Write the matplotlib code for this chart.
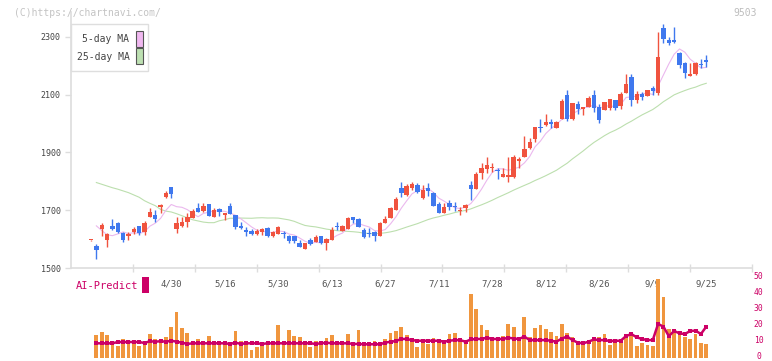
import numpy as np
import pandas as pd
import matplotlib
matplotlib.use("Agg")
import matplotlib.pyplot as plt
import matplotlib.transforms as mtransforms
from matplotlib.patches import Rectangle

# ---------------- data ----------------
date_labels = ['4/30', '5/16', '5/30', '6/13', '6/27', '7/11', '7/28', '8/12', '8/26', '9/9', '9/25']
date_label_idx = [15, 25, 35, 45, 55, 65, 75, 85, 95, 105, 115]
right_ticks = [0, 10, 20, 30, 40, 50]

opens = [1596, 1576, 1635, 1597, 1645, 1657, 1622, 1612, 1626, 1645,
         1624, 1678, 1682, 1712, 1747, 1782, 1635, 1645, 1660, 1674,
         1707, 1698, 1720, 1678, 1703, 1684, 1715, 1684, 1645, 1632,
         1628, 1618, 1626, 1640, 1611, 1619, 1622, 1612, 1610, 1588,
         1567, 1597, 1589, 1611, 1585, 1597, 1646, 1629, 1635, 1677,
         1670, 1632, 1622, 1626, 1612, 1657, 1672, 1701, 1778, 1753,
         1778, 1787, 1741, 1778, 1761, 1722, 1692, 1724, 1716, 1699,
         1709, 1787, 1774, 1830, 1843, 1848, 1839, 1816, 1814, 1816,
         1872, 1885, 1915, 1946, 1989, 1995, 2007, 1986, 2016, 2099,
         2016, 2068, 2051, 2059, 2099, 2057, 2047, 2053, 2082, 2060,
         2107, 2162, 2083, 2103, 2096, 2123, 2105, 2331, 2290, 2290,
         2245, 2209, 2166, 2172, 2208, 2220]
highs = [1598, 1583, 1657, 1622, 1670, 1660, 1626, 1626, 1641, 1645,
         1664, 1707, 1701, 1720, 1767, 1782, 1678, 1675, 1691, 1705,
         1724, 1724, 1720, 1707, 1709, 1691, 1724, 1684, 1660, 1641,
         1634, 1634, 1637, 1643, 1627, 1645, 1629, 1614, 1612, 1597,
         1587, 1603, 1614, 1611, 1603, 1641, 1660, 1649, 1678, 1678,
         1672, 1637, 1637, 1628, 1660, 1680, 1712, 1747, 1797, 1791,
         1797, 1793, 1787, 1793, 1764, 1730, 1726, 1735, 1730, 1712,
         1722, 1802, 1834, 1865, 1885, 1862, 1845, 1845, 1885, 1891,
         1885, 1957, 1949, 1989, 2015, 2033, 2015, 2010, 2084, 2116,
         2073, 2078, 2059, 2096, 2116, 2067, 2076, 2087, 2082, 2108,
         2172, 2172, 2113, 2108, 2116, 2131, 2318, 2345, 2300, 2333,
         2248, 2212, 2210, 2212, 2223, 2238]
lows = [1594, 1531, 1611, 1574, 1632, 1622, 1591, 1597, 1618, 1614,
        1614, 1678, 1660, 1689, 1741, 1741, 1622, 1643, 1643, 1672,
        1695, 1695, 1681, 1678, 1680, 1666, 1686, 1634, 1634, 1612,
        1614, 1614, 1614, 1609, 1609, 1617, 1605, 1588, 1588, 1572,
        1567, 1580, 1589, 1583, 1562, 1597, 1632, 1629, 1635, 1655,
        1643, 1605, 1609, 1595, 1612, 1657, 1672, 1701, 1747, 1749,
        1770, 1761, 1738, 1749, 1716, 1692, 1689, 1701, 1699, 1683,
        1695, 1735, 1774, 1808, 1828, 1834, 1808, 1816, 1799, 1810,
        1845, 1885, 1911, 1937, 1972, 1993, 1984, 1984, 2016, 2010,
        2013, 2035, 2030, 2059, 2040, 2002, 2047, 2047, 2047, 2050,
        2107, 2062, 2070, 2082, 2096, 2099, 2099, 2280, 2272, 2278,
        2191, 2159, 2166, 2168, 2191, 2196]
closes = [1596, 1562, 1649, 1618, 1635, 1626, 1597, 1619, 1635, 1620,
          1655, 1695, 1671, 1718, 1761, 1755, 1657, 1660, 1678, 1697,
          1695, 1715, 1681, 1701, 1695, 1689, 1686, 1643, 1640, 1625,
          1618, 1628, 1634, 1611, 1625, 1643, 1618, 1592, 1592, 1574,
          1587, 1584, 1607, 1585, 1600, 1633, 1641, 1646, 1674, 1666,
          1643, 1609, 1618, 1612, 1657, 1670, 1709, 1739, 1761, 1784,
          1791, 1764, 1770, 1768, 1716, 1692, 1712, 1712, 1712, 1701,
          1718, 1774, 1826, 1847, 1857, 1851, 1836, 1825, 1822, 1885,
          1876, 1911, 1937, 1989, 1984, 2007, 1998, 2007, 2078, 2016,
          2070, 2051, 2059, 2090, 2055, 2013, 2074, 2086, 2054, 2102,
          2137, 2083, 2103, 2091, 2115, 2112, 2232, 2294, 2280, 2284,
          2203, 2176, 2172, 2209, 2203, 2214]

# moving-average values before the window is full
ma5_head = [np.nan, 1646, 1630, 1615]
ma25_head = [np.nan, 1796, 1790, 1784, 1778, 1773, 1767, 1761, 1753, 1745,
             1733, 1724, 1716, 1703, 1697, 1694, 1688, 1681, 1674, 1667,
             1663, 1659, 1657, 1657]

volume = [np.nan, 14.2, 16.3, 14.2, 9.0, 7.3, 11.7, 10.0, 10.0, 7.3,
          10.0, 14.8, 11.7, 10.0, 13.2, 19.4, 28.8, 18.6, 15.7, 9.0,
          11.7, 10.0, 13.5, 10.5, 9.0, 10.0, 7.3, 16.9, 10.5, 10.5,
          4.8, 6.9, 9.0, 9.0, 9.0, 20.4, 10.5, 17.3, 13.5, 13.2,
          10.0, 6.9, 10.5, 9.0, 12.5, 14.2, 10.5, 10.0, 14.8, 7.7,
          17.3, 7.3, 7.3, 10.5, 10.0, 11.7, 15.7, 16.9, 19.4, 14.2,
          10.5, 6.9, 10.0, 8.6, 12.5, 11.7, 10.0, 14.8, 15.7, 12.5,
          10.0, 40.0, 30.4, 20.4, 17.3, 10.5, 10.5, 13.5, 21.0, 19.4,
          10.5, 25.6, 12.7, 18.6, 20.4, 18.1, 16.3, 13.5, 21.0, 15.7,
          13.2, 9.0, 10.0, 10.5, 11.7, 13.2, 14.8, 7.7, 10.5, 11.0,
          14.8, 14.8, 7.3, 9.4, 7.7, 7.3, 49.2, 37.9, 18.1, 16.3,
          14.8, 13.2, 11.7, 14.8, 9.4, 8.6]

ai_predict = [np.nan, 9.0, 9.0, 9.0, 9.0, 9.8, 9.8, 9.8, 9.8, 9.8,
              9.2, 10.3, 10.0, 10.3, 10.0, 10.6, 10.0, 9.4, 8.6, 9.0,
              9.0, 9.0, 9.0, 9.0, 9.0, 9.0, 8.6, 9.4, 8.6, 9.0,
              9.0, 9.0, 8.6, 9.0, 9.0, 9.0, 9.0, 9.0, 9.0, 9.0,
              9.0, 9.0, 8.6, 9.0, 9.4, 9.0, 9.0, 9.0, 9.0, 8.6,
              8.6, 8.4, 8.4, 8.4, 8.4, 9.4, 10.0, 10.4, 11.7, 11.7,
              11.0, 10.6, 10.6, 10.6, 10.6, 10.6, 10.0, 10.6, 11.0, 11.0,
              10.0, 11.4, 11.7, 11.7, 12.5, 11.7, 11.7, 11.7, 12.5, 12.0,
              11.7, 13.2, 11.0, 11.0, 11.0, 11.0, 10.6, 10.0, 12.0, 13.2,
              11.0, 9.4, 9.0, 10.0, 11.4, 11.0, 11.0, 10.4, 10.6, 10.6,
              13.5, 14.8, 12.7, 11.7, 11.0, 11.0, 21.1, 19.4, 13.5, 16.7,
              15.2, 14.8, 16.7, 16.9, 14.8, 19.4]

# ---------------- styling ----------------
W, H = 772, 361
RED = '#f0533f'
BLUE = '#3f78ee'
ORANGE = '#f0963e'
MAGENTA = '#cc0066'
PINK = '#ebb8ee'
GREEN = '#bcdfae'
AXC = '#dddddd'
MONO = 'DejaVu Sans Mono'

def fx(px):
    return px / W

def fy(py):
    return 1 - py / H

fig = plt.figure(figsize=(W / 100, H / 100), dpi=100)
fig.patch.set_facecolor('white')

n = len(closes)
x = np.arange(n)
o = np.array(opens, float)
h = np.array(highs, float)
l = np.array(lows, float)
c = np.array(closes, float)

cs = pd.Series(c)
ma5 = cs.rolling(5).mean().to_numpy()
ma5[:len(ma5_head)] = ma5_head
ma25 = cs.rolling(25).mean().to_numpy()
ma25[:len(ma25_head)] = ma25_head

# ---------------- main price axes ----------------
ax = fig.add_axes([fx(71), fy(268), fx(752) - fx(71), fy(12) - fy(268)])
xmin, xmax = -3.74, 123.55
ax.set_xlim(xmin, xmax)
ax.set_ylim(1500, 1500 + 256 * 3.4632)

ax.plot(x, ma25, color=GREEN, lw=0.8, zorder=1)
ax.plot(x, ma5, color=PINK, lw=0.8, zorder=1)

colors = [RED if cc >= oo else BLUE for oo, cc in zip(o, c)]
ax.vlines(x, l, h, colors=colors, lw=1.0, zorder=2)
body_bottom = np.minimum(o, c)
body_h = np.maximum(np.abs(c - o), 3.0)
ax.bar(x, body_h, bottom=body_bottom, width=0.82, color=colors, zorder=3, linewidth=0)

for s in ['top', 'right']:
    ax.spines[s].set_visible(False)
for s in ['left', 'bottom']:
    ax.spines[s].set_color(AXC)
    ax.spines[s].set_linewidth(1.2)

ax.set_yticks([1500, 1700, 1900, 2100, 2300])
ax.tick_params(axis='y', direction='out', length=4.5, width=1.0, color=AXC,
               labelsize=6, labelcolor='#444444', pad=3)
for t in ax.get_yticklabels():
    t.set_family(MONO)

ax.set_xticks(date_label_idx)
ax.set_xticklabels(date_labels)
ax.tick_params(axis='x', which='major', length=0, pad=8, labelsize=6.5, labelcolor='#555555')
for t in ax.get_xticklabels():
    t.set_family(MONO)
grid_ticks = [xmin + k * (xmax - xmin) / 11 for k in range(1, 12)]
ax.set_xticks(grid_ticks, minor=True)
ax.tick_params(axis='x', which='minor', direction='inout', length=6, width=1.0, color=AXC)

# ---------------- lower (volume / AI-Predict) axes ----------------
ax2 = fig.add_axes([fx(71), fy(357.7), fx(752) - fx(71), fy(277.7) - fy(357.7)])
ax2.patch.set_alpha(0)
ax2.set_xlim(xmin, xmax)
ax2.set_ylim(0, 50)
ax2.bar(x, volume, width=0.7, color=ORANGE, linewidth=0, zorder=1)
ax2.plot(x, ai_predict, color=MAGENTA, lw=1.8, marker='s', markersize=2.6,
         markeredgewidth=0, zorder=2)
for s in ax2.spines.values():
    s.set_visible(False)
ax2.set_xticks([])
ax2.set_yticks([])
# right-hand scale labels (drawn as text, lifted 1.5 px so the "0" is not clipped)
lab_tr = mtransforms.blended_transform_factory(ax2.transAxes, ax2.transData) + \
    mtransforms.ScaledTranslation(0, 1.5 / 100, fig.dpi_scale_trans)
for v in right_ticks:
    ax2.text(1.0 + 6.5 / (752 - 71), v, str(v), transform=lab_tr, ha='center', va='center',
             fontsize=5.8, color=MAGENTA, family=MONO, clip_on=False)

# ---------------- texts / legend ----------------
fig.text(fx(14), fy(12.5), '(C)https://chartnavi.com/', color='#c4c4c4',
         fontsize=7, family=MONO, va='center', ha='left')
fig.text(fx(757), fy(12.5), '9503', color='#bdbdbd', fontsize=7, family=MONO,
         va='center', ha='right')

fig.add_artist(Rectangle((fx(70.5), fy(71)), fx(148) - fx(70.5), fy(24) - fy(71),
                         transform=fig.transFigure, facecolor='white',
                         edgecolor='#dedede', lw=1.0, zorder=5))
fig.text(fx(129.5), fy(39.3), '5-day MA', color='#444444', fontsize=7, family=MONO,
         va='center', ha='right', zorder=6)
fig.text(fx(129.5), fy(57.3), '25-day MA', color='#444444', fontsize=7, family=MONO,
         va='center', ha='right', zorder=6)
fig.add_artist(Rectangle((fx(136.3), fy(46.5)), fx(6.3), fy(0) - fy(15),
                         transform=fig.transFigure, facecolor='#f0b8f0',
                         edgecolor='#555555', lw=0.8, zorder=6))
fig.add_artist(Rectangle((fx(136.3), fy(63.5)), fx(6.3), fy(0) - fy(15),
                         transform=fig.transFigure, facecolor='#bde0b2',
                         edgecolor='#555555', lw=0.8, zorder=6))

fig.text(fx(76), fy(286), 'AI-Predict', color=MAGENTA, fontsize=7.5, family=MONO,
         va='center', ha='left')
fig.add_artist(Rectangle((fx(142.3), fy(292.7)), fx(6.7), fy(0) - fy(15.4),
                         transform=fig.transFigure, facecolor=MAGENTA,
                         edgecolor='none', zorder=6))

fig.savefig('out.png', dpi=100, facecolor='white')
